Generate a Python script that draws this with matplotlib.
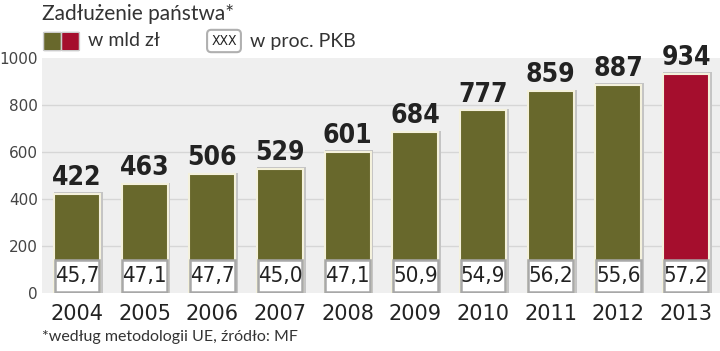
import matplotlib.pyplot as plt
from matplotlib.patches import FancyBboxPatch

years = ['2004', '2005', '2006', '2007', '2008', '2009', '2010', '2011', '2012', '2013']
debt = [422, 463, 506, 529, 601, 684, 777, 859, 887, 934]
pct_gdp = ['45,7', '47,1', '47,7', '45,0', '47,1', '50,9', '54,9', '56,2', '55,6', '57,2']
yticks = [0, 200, 400, 600, 800, 1000]

OLIVE = '#68682c'
RED = '#a50e2d'
colors = [OLIVE] * 9 + [RED]

fig = plt.figure(figsize=(7.2, 3.51), dpi=100)
ax = fig.add_axes([42 / 720, 58 / 351, 678 / 720, 235 / 351])
ax.set_xlim(-0.517, 9.5)
ax.set_ylim(0, 1000)
ax.set_facecolor('#efefef')
for s in ax.spines.values():
    s.set_visible(False)

xs = list(range(len(years)))

# grid
for t in yticks[1:-1]:
    ax.axhline(t, color='#d6d6d6', lw=1, zorder=0)

# shadow, bars
ax.bar([x + 0.02 for x in xs], [v + 6 for v in debt], width=0.72, color='#c4c4c4', zorder=1)
ax.bar(xs, debt, width=0.68, color=colors, edgecolor='#f4f1dc', linewidth=1.5, zorder=2)

# value labels
for x, v in zip(xs, debt):
    ax.text(x, v + 12, str(v), ha='center', va='bottom', fontsize=19,
            fontweight='bold', fontstretch='condensed', color='#222222', zorder=5)

# percent boxes
for x, p in zip(xs, pct_gdp):
    ax.bar(x, 136, bottom=6, width=0.66, color='white', edgecolor='#a8a8a8',
           linewidth=1.8, zorder=3)
    ax.text(x, 72, p, ha='center', va='center', fontsize=16,
            fontstretch='condensed', color='#222222', zorder=4)

ax.set_xticks(xs)
ax.set_xticklabels(years, fontsize=15, color='#222222', family='DejaVu Sans')
ax.set_yticks(yticks)
ax.set_yticklabels([str(t) for t in yticks], fontsize=11, color='#444444', family='DejaVu Sans')
ax.tick_params(length=0)
ax.tick_params(axis='x', pad=8)
ax.tick_params(axis='y', pad=3)

# title and legend
fig.text(42 / 720, 1 - 14 / 351, 'Zadłużenie państwa*', fontsize=15, color='#333333',
         family='Lato', va='center')
fig.patches.append(FancyBboxPatch((45 / 720, 1 - 50 / 351), 15 / 720, 17 / 351,
                                  boxstyle='round,pad=0.002', fc=OLIVE, ec='#cccccc',
                                  transform=fig.transFigure, figure=fig))
fig.patches.append(FancyBboxPatch((63 / 720, 1 - 50 / 351), 15 / 720, 17 / 351,
                                  boxstyle='round,pad=0.002', fc=RED, ec='#cccccc',
                                  transform=fig.transFigure, figure=fig))
fig.text(88 / 720, 1 - 41 / 351, 'w mld zł', fontsize=14, color='#333333',
         family='Lato', va='center')
fig.text(224 / 720, 1 - 41 / 351, 'XXX', fontsize=10, color='#222222', ha='center',
         va='center', fontstretch='condensed',
         bbox=dict(boxstyle='round,pad=0.3', fc='white', ec='#b0b0b0', lw=1.5))
fig.text(250 / 720, 1 - 41 / 351, 'w proc. PKB', fontsize=14, color='#333333',
         family='Lato', va='center')

fig.text(42 / 720, 1 - 337 / 351, '*według metodologii UE, źródło: MF', fontsize=11.5,
         color='#333333', family='Lato', va='center')

fig.savefig('out.png', dpi=100)
